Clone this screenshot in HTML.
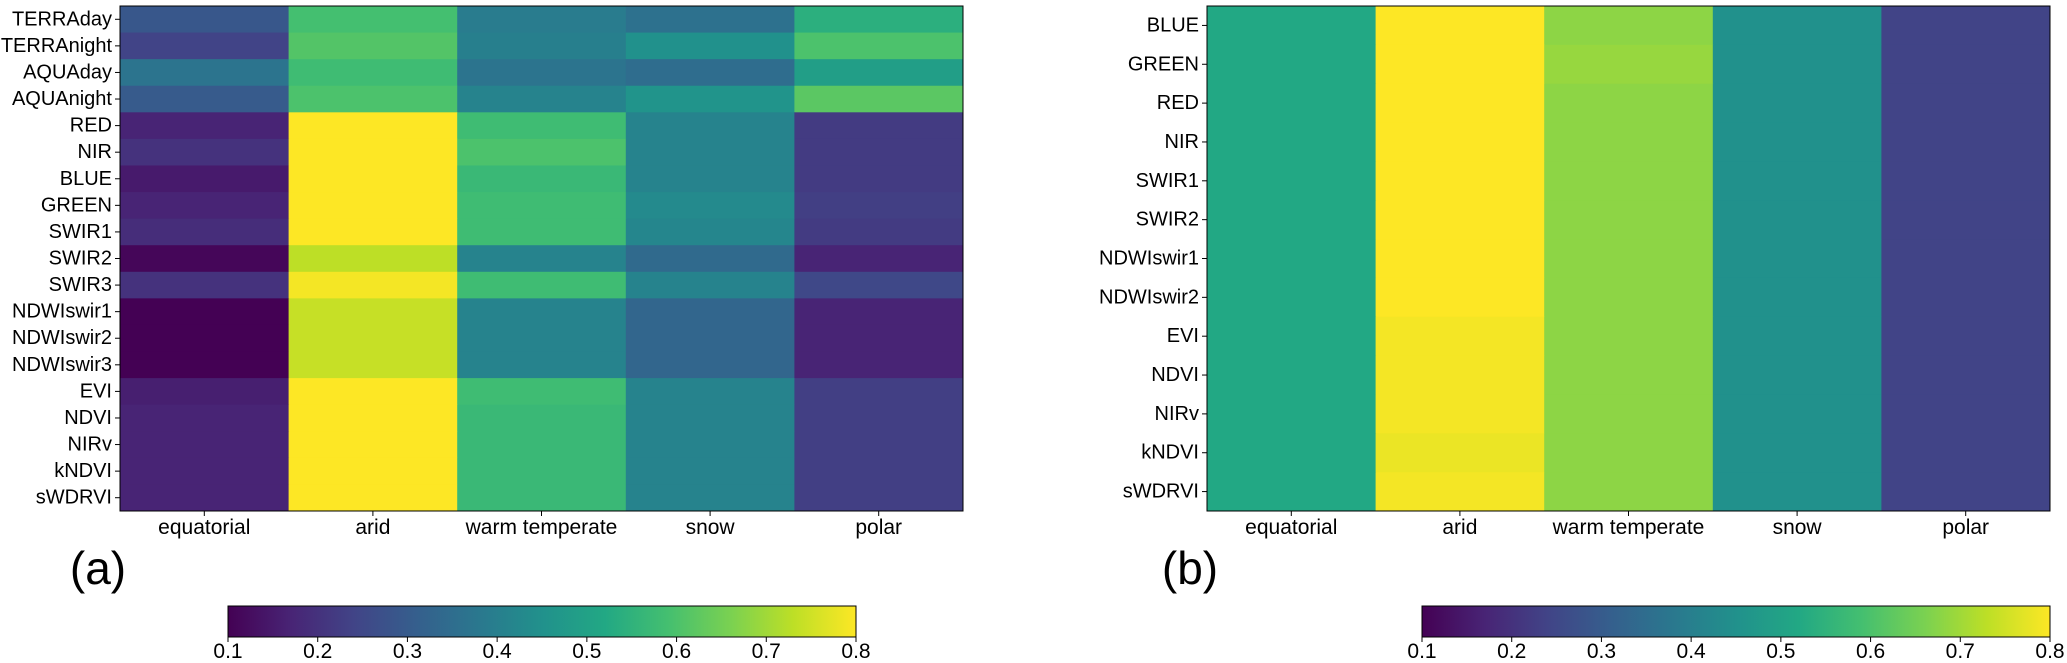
<!DOCTYPE html>
<html><head><meta charset="utf-8">
<style>
html,body{margin:0;padding:0;background:#fff;}
svg{display:block;font-family:"Liberation Sans","DejaVu Sans",sans-serif;}
</style></head>
<body>
<svg id="fig" width="2067" height="663" viewBox="0 0 2067 663" xmlns="http://www.w3.org/2000/svg">
<defs>
<linearGradient id="vgrad" x1="0" x2="1" y1="0" y2="0">
<stop offset="0" stop-color="#440154"/><stop offset="0.1" stop-color="#482475"/><stop offset="0.2" stop-color="#414487"/><stop offset="0.3" stop-color="#355f8d"/><stop offset="0.4" stop-color="#2a788e"/><stop offset="0.5" stop-color="#21918c"/><stop offset="0.6" stop-color="#22a884"/><stop offset="0.7" stop-color="#44bf70"/><stop offset="0.8" stop-color="#7ad151"/><stop offset="0.9" stop-color="#bddf26"/><stop offset="1" stop-color="#fde725"/>
</linearGradient>
</defs>
</svg>
<script>
const categories = ["equatorial","arid","warm temperate","snow","polar"];
const rowsA = ["TERRAday","TERRAnight","AQUAday","AQUAnight","RED","NIR","BLUE","GREEN","SWIR1","SWIR2","SWIR3","NDWIswir1","NDWIswir2","NDWIswir3","EVI","NDVI","NIRv","kNDVI","sWDRVI"];
const valuesA = [
 [0.29,0.59,0.39,0.36,0.54],
 [0.24,0.61,0.40,0.45,0.60],
 [0.37,0.58,0.37,0.35,0.49],
 [0.30,0.60,0.41,0.46,0.62],
 [0.17,0.80,0.58,0.41,0.22],
 [0.20,0.80,0.60,0.41,0.22],
 [0.15,0.80,0.57,0.41,0.22],
 [0.17,0.80,0.58,0.43,0.23],
 [0.19,0.80,0.58,0.42,0.22],
 [0.11,0.73,0.41,0.34,0.17],
 [0.20,0.79,0.58,0.41,0.25],
 [0.10,0.74,0.41,0.33,0.17],
 [0.10,0.74,0.41,0.33,0.17],
 [0.10,0.74,0.41,0.33,0.17],
 [0.16,0.80,0.58,0.41,0.23],
 [0.17,0.80,0.57,0.41,0.23],
 [0.17,0.80,0.57,0.41,0.23],
 [0.17,0.80,0.57,0.41,0.23],
 [0.17,0.80,0.57,0.41,0.23]
];
const rowsB = ["BLUE","GREEN","RED","NIR","SWIR1","SWIR2","NDWIswir1","NDWIswir2","EVI","NDVI","NIRv","kNDVI","sWDRVI"];
const valuesB = [
 [0.52,0.80,0.68,0.45,0.24],
 [0.52,0.80,0.69,0.45,0.24],
 [0.52,0.80,0.68,0.45,0.24],
 [0.52,0.80,0.68,0.45,0.24],
 [0.52,0.80,0.68,0.45,0.24],
 [0.52,0.80,0.68,0.45,0.24],
 [0.52,0.80,0.68,0.45,0.24],
 [0.52,0.80,0.68,0.45,0.24],
 [0.52,0.79,0.68,0.45,0.24],
 [0.52,0.79,0.68,0.45,0.24],
 [0.52,0.79,0.68,0.45,0.24],
 [0.52,0.78,0.68,0.45,0.24],
 [0.52,0.79,0.68,0.45,0.24]
];
const cbTicks = ["0.1","0.2","0.3","0.4","0.5","0.6","0.7","0.8"];
const vmin = 0.1, vmax = 0.8;

const VIR = ["#440154","#482475","#414487","#355f8d","#2a788e","#21918c","#22a884","#44bf70","#7ad151","#bddf26","#fde725"];
function hex(h){return [1,3,5].map(i=>parseInt(h.substr(i,2),16));}
function viridis(v){
  let t=(v-vmin)/(vmax-vmin); t=Math.max(0,Math.min(1,t));
  const p=t*10, i=Math.min(9,Math.floor(p)), f=p-i;
  const a=hex(VIR[i]), b=hex(VIR[i+1]);
  return "rgb("+a.map((c,k)=>Math.round(c+(b[k]-c)*f)).join(",")+")";
}
const NS="http://www.w3.org/2000/svg";
const svg=document.getElementById("fig");
function el(tag,attrs,parent){const e=document.createElementNS(NS,tag);for(const k in attrs)e.setAttribute(k,attrs[k]);(parent||svg).appendChild(e);return e;}

function heatmap(id,x0,x1,y0,y1,rows,vals,letter,lx){
  const g=el("g",{});
  
  
  const cw=(x1-x0)/categories.length, rh=(y1-y0)/rows.length;
  const xs=i=>x0+i*cw, ys=j=>y0+j*rh;
  rows.forEach((r,j)=>{
    vals[j].forEach((v,i)=>{
      const c=el("rect",{x:xs(i),y:ys(j),width:cw+0.5,height:rh+0.5,fill:viridis(v)},g);
      
      
    });
    const ty=ys(j)+rh/2;
    el("line",{x1:x0-5,x2:x0,y1:ty,y2:ty,stroke:"#000","stroke-width":1},g);
    const t=el("text",{x:x0-8,y:ty,"text-anchor":"end","dominant-baseline":"central","font-size":20,fill:"#000"},g);
    t.textContent=r;
    
    
  });
  categories.forEach((c,i)=>{
    const tx=xs(i)+cw/2;
    el("line",{x1:tx,x2:tx,y1:y1,y2:y1+5,stroke:"#000","stroke-width":1},g);
    const t=el("text",{x:tx,y:y1+23,"text-anchor":"middle","font-size":21,fill:"#000"},g);
    t.textContent=c;
    
    
  });
  el("rect",{x:x0,y:y0,width:x1-x0,height:y1-y0,fill:"none",stroke:"#000","stroke-width":1},g);
  const L=el("text",{x:lx,y:584,"text-anchor":"middle","font-size":46,fill:"#000"},g);
  L.textContent=letter;
  
  
}
function colorbar(id,x0,x1,y0,y1){
  const g=el("g",{});
  
  
  el("rect",{x:x0,y:y0,width:x1-x0,height:y1-y0,fill:"url(#vgrad)",stroke:"#000","stroke-width":1},g);
  cbTicks.forEach(tk=>{
    const v=parseFloat(tk), tx=x0+(v-vmin)/(vmax-vmin)*(x1-x0);
    el("line",{x1:tx,x2:tx,y1:y1,y2:y1+5,stroke:"#000","stroke-width":1},g);
    const t=el("text",{x:tx,y:y1+21,"text-anchor":"middle","font-size":21,fill:"#000"},g);
    t.textContent=tk;
    
    
  });
}
heatmap("a",120,963,6,511,rowsA,valuesA,"(a)",98);
heatmap("b",1207,2050,6,511,rowsB,valuesB,"(b)",1190);
colorbar("a",228,856,606,637);
colorbar("b",1422,2050,606,637);
</script>
</body></html>
